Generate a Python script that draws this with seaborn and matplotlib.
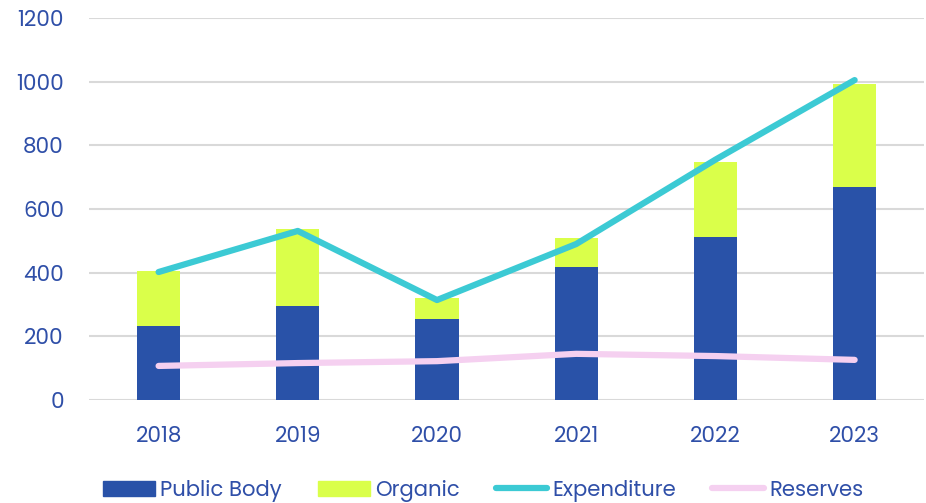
import matplotlib

matplotlib.use("Agg")

import matplotlib.pyplot as plt
import matplotlib.patches as mpatches
import matplotlib.lines as mlines
import numpy as np
import pandas as pd
import seaborn as sns

years = ["2018", "2019", "2020", "2021", "2022", "2023"]
public_body = [232, 295, 254, 418, 512, 669]
organic = [173, 242, 66, 91, 236, 324]
expenditure = [402, 531, 314, 490, 755, 1005]
reserves = [107, 116, 122, 145, 138, 126]

NAVY = "#2952A8"
LIME = "#DAFF4A"
CYAN = "#3CCAD4"
PINK = "#F5D0F0"
TEXT = "#2F4FA8"

sns.set_theme(style="white")
plt.rcParams["font.family"] = ["Poppins", "Open Sans", "DejaVu Sans"]

frame = pd.DataFrame(
    {
        "year": years,
        "public_body": public_body,
        "organic": organic,
        "expenditure": expenditure,
        "reserves": reserves,
    }
)
frame["total"] = frame["public_body"] + frame["organic"]
frame["pos"] = np.arange(len(years))

fig = plt.figure(figsize=(9.26, 5.03), dpi=100)
ax = fig.add_axes([0.0961, 0.2048, 0.902, 0.7594])

# stacked bars: draw the total in lime, then the public body part on top
sns.barplot(data=frame, x="year", y="total", color=LIME, width=0.31,
            saturation=1, ax=ax, zorder=2)
sns.barplot(data=frame, x="year", y="public_body", color=NAVY, width=0.31,
            saturation=1, ax=ax, zorder=3)
for patch in ax.patches:
    patch.set_edgecolor("none")

sns.lineplot(data=frame, x="pos", y="reserves", color=PINK, linewidth=4.5,
             ax=ax, zorder=4, solid_capstyle="round")
sns.lineplot(data=frame, x="pos", y="expenditure", color=CYAN, linewidth=4.5,
             ax=ax, zorder=5, solid_capstyle="round")

ax.set_xlim(-0.5, 5.5)
ax.set_ylim(0, 1200)
ax.set_yticks(range(0, 1201, 200))
ax.set_xticks(frame["pos"])
ax.set_xticklabels(years)
ax.yaxis.grid(True, color="#D9D9D9", linewidth=1.5, zorder=0)
ax.set_axisbelow(True)
for side in ["top", "right", "left", "bottom"]:
    ax.spines[side].set_visible(False)
ax.set(xlabel="", ylabel="")
ax.tick_params(axis="both", length=0, labelsize=15.5, colors=TEXT)
ax.tick_params(axis="y", pad=18)
ax.tick_params(axis="x", pad=19)

handles = [
    mpatches.Patch(color=NAVY, label="Public Body"),
    mpatches.Patch(color=LIME, label="Organic"),
    mlines.Line2D([], [], color=CYAN, linewidth=4.5, solid_capstyle="round", label="Expenditure"),
    mlines.Line2D([], [], color=PINK, linewidth=4.5, solid_capstyle="round", label="Reserves"),
]
leg = fig.legend(handles=handles, loc="center", bbox_to_anchor=(0.522, 0.024), ncol=4,
                 frameon=False, fontsize=15.25, handlelength=2.45, handleheight=0.71,
                 handletextpad=0.24, columnspacing=1.7)
for text in leg.get_texts():
    text.set_color(TEXT)

fig.savefig("out.png", dpi=100, facecolor="white")
